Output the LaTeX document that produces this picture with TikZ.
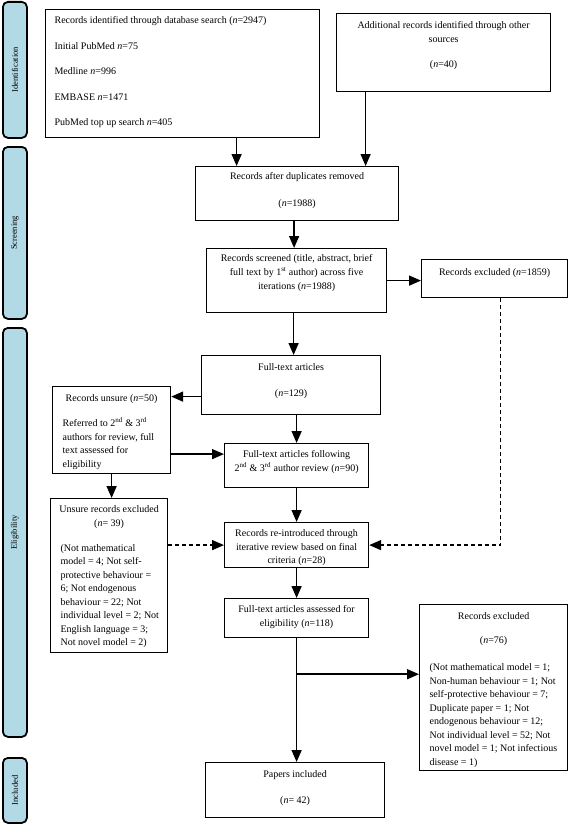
\documentclass[tikz,border=0pt]{standalone}
\usepackage{fontspec}
\setmainfont{Liberation Serif}
\usetikzlibrary{arrows.meta,calc}
\definecolor{phaseblue}{RGB}{178,218,230}
\newcommand{\bt}[4]{\parbox[c][#2][t]{#1}{\vspace*{#3}#4}}
\tikzset{
  box/.style={draw, line width=1.2pt, inner sep=0pt, anchor=north west, fill=white,
    font=\fontsize{10}{13.5}\selectfont},
  phase/.style={draw, line width=1.8pt, rounded corners=5pt, fill=phaseblue, inner sep=0pt,
    anchor=north west, minimum width=24pt, font=\fontsize{8.5}{10}\selectfont},
  arr/.style={line width=1.5pt, -{Triangle[length=12pt,width=10pt]}},
  darr/.style={arr, dash pattern=on 4pt off 3pt},
}
\begin{document}
\begin{tikzpicture}[x=1pt,y=-1pt]
\useasboundingbox (0,0) rectangle (568,824);

% phase labels
\node[phase, minimum height=136pt] (pid) at (2,1) {\rotatebox{90}{Identification}};
\node[phase, minimum height=172pt] (psc) at (2,146) {\rotatebox{90}{Screening}};
\node[phase, minimum height=409pt] (pel) at (2,327) {\rotatebox{90}{Eligibility}};
\node[phase, minimum height=65pt] (pin) at (2,757) {\rotatebox{90}{Included}};

% boxes
\node[box] (db) at (45,9) {\bt{274pt}{128pt}{4.5pt}{\raggedright\leftskip=9pt
  \strut Records identified through database search (\textit{n}=2947)\\[12pt]
  Initial PubMed \textit{n}=75\\[12pt]
  Medline \textit{n}=996\\[12pt]
  EMBASE \textit{n}=1471\\[12pt]
  PubMed top up search \textit{n}=405\par}};

\node[box] (oth) at (336,13) {\bt{214pt}{78pt}{5.5pt}{\centering
  \strut Additional records identified through other\\
  sources\\[11.5pt]
  (\textit{n}=40)\par}};

\node[box] (dup) at (195,166) {\bt{203pt}{54pt}{3.5pt}{\centering
  \strut Records after duplicates removed\\[13.5pt]
  (\textit{n}=1988)\par}};

\node[box] (scr) at (206,248) {\bt{180pt}{64pt}{3.5pt}{\centering
  \strut Records screened (title, abstract, brief\\[0.5pt]
  full text by 1\textsuperscript{st} author) across five\\[0.5pt]
  iterations (\textit{n}=1988)\par}};

\node[box] (ex1) at (421,259) {\bt{146pt}{38pt}{6.5pt}{\centering
  \strut Records excluded (\textit{n}=1859)\par}};

\node[box] (ft) at (201,355) {\bt{179pt}{59pt}{5.5pt}{\centering
  \strut Full-text articles\\[12.5pt]
  (\textit{n}=129)\par}};

\node[box] (uns) at (52,386) {\bt{118pt}{87pt}{5.5pt}{%
  {\centering\strut Records unsure (\textit{n}=50)\par}\vspace{11.5pt}%
  {\raggedright\leftskip=10pt
  Referred to 2\textsuperscript{nd} \& 3\textsuperscript{rd}\\
  authors for review, full\\
  text assessed for\\
  eligibility\par}}};

\node[box] (fol) at (224,443) {\bt{144pt}{44pt}{4.5pt}{\centering
  \strut Full-text articles following\\
  2\textsuperscript{nd} \& 3\textsuperscript{rd} author review (\textit{n}=90)\par}};

\node[box] (uex) at (50,498) {\bt{117pt}{154pt}{4.5pt}{%
  {\centering\strut Unsure records excluded\\[0.5pt]
  (\textit{n}= 39)\par}\vspace{11pt}%
  {\raggedright\leftskip=10pt
  (Not mathematical\\
  model = 4; Not self-\\
  protective behaviour =\\
  6; Not endogenous\\
  behaviour = 22; Not\\
  individual level = 2; Not\\
  English language = 3;\\
  Not novel model = 2)\par}}};

\node[box] (rein) at (224,522) {\bt{144pt}{45pt}{4.5pt}{\centering
  \strut Records re-introduced through\\
  iterative review based on final\\
  criteria (\textit{n}=28)\par}};

\node[box] (as) at (224,598) {\bt{144pt}{39pt}{4.5pt}{\centering
  \strut Full-text articles assessed for\\[0.5pt]
  eligibility (\textit{n}=118)\par}};

\node[box] (ex2) at (419,604) {\bt{148pt}{166pt}{5.5pt}{%
  {\centering\strut Records excluded\\[10.5pt]
  (\textit{n}=76)\par}\vspace{13.5pt}%
  {\raggedright\leftskip=10pt
  (Not mathematical model = 1;\\
  Non-human behaviour = 1; Not\\
  self-protective behaviour = 7;\\
  Duplicate paper = 1; Not\\
  endogenous behaviour = 12;\\
  Not individual level = 52; Not\\
  novel model = 1; Not infectious\\
  disease = 1)\par}}};

\node[box] (pap) at (205,762) {\bt{179pt}{55pt}{5.5pt}{\centering
  \strut Papers included\\[12.5pt]
  (\textit{n}= 42)\par}};

% connectors
\draw[arr] ([xshift=54pt]db.south) -- ([xshift=54pt]db.south |- dup.north);
\draw[arr] ([xshift=-78pt]oth.south) -- ([xshift=-78pt]oth.south |- dup.north);
\draw[arr] ([xshift=-3pt]dup.south) -- ([xshift=-3pt]dup.south |- scr.north);
\draw[arr] (scr.east) -- (scr.east -| ex1.west);
\draw[arr] ([xshift=-3pt]scr.south) -- ([xshift=-3pt]scr.south |- ft.north);
\draw[arr] ([yshift=-11.5pt]ft.west) -- ([yshift=-11.5pt]ft.west -| uns.east);
\draw[arr] (fol.north |- ft.south) -- (fol.north);
\draw[arr] ([yshift=-24pt]uns.east) -- ([yshift=-24pt]uns.east -| fol.west);
\draw[arr] (uns.south) -- (uns.south |- uex.north);
\draw[arr] (fol.south) -- (rein.north);
\draw[arr] (rein.south) -- (as.north);
\draw[darr] (rein.west -| uex.east) -- (rein.west);
\draw[darr] ([xshift=6pt]ex1.south) |- (rein.east);
\coordinate (br) at ([yshift=-36pt]as.south);
\draw[arr] (as.south) -- (as.south |- pap.north);
\draw[arr] (br) -- (br -| ex2.west);
\end{tikzpicture}
\end{document}
